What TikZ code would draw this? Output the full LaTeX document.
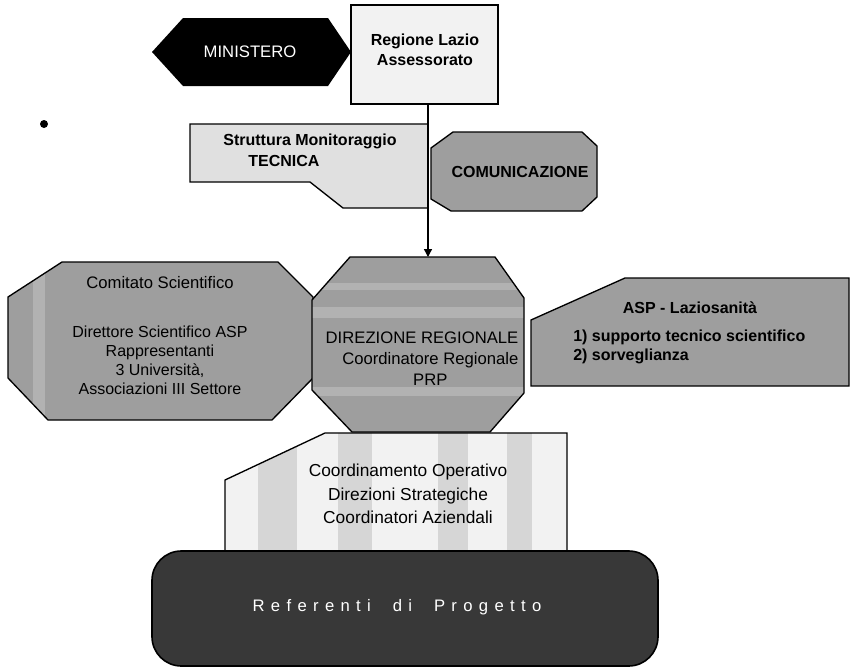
\documentclass[tikz,border=0pt]{standalone}
\usepackage{fontspec}
\setmainfont{Liberation Sans}
\newfontfamily\spacedfont[LetterSpace=38]{Liberation Sans}
\usetikzlibrary{arrows.meta}
\definecolor{boxmid}{gray}{0.62}
\definecolor{boxlight}{gray}{0.88}
\definecolor{boxpale}{gray}{0.95}
\definecolor{stripe}{gray}{0.84}
\definecolor{band}{gray}{0.70}
\definecolor{boxdark}{gray}{0.22}
\begin{document}
\begin{tikzpicture}[x=0.75pt,y=-0.75pt,
  shapeline/.style={draw=black,line width=1pt,line join=miter},
  txt/.style={font=\fontsize{12.5}{15}\selectfont,align=center,inner sep=0pt},
  btxt/.style={font=\fontsize{12}{15}\bfseries\selectfont,align=center,inner sep=0pt}]
\useasboundingbox (0,0) rectangle (851,668);

% bullet
\fill (44,124) circle[radius=4];

% MINISTERO
\fill[black] (152,52) -- (183,18) -- (328,18) -- (351,52) -- (328,86) -- (183,86) -- cycle;
\node[txt,text=white] (min) at (250,52) {MINISTERO};

% Regione Lazio
\draw[shapeline,fill=boxpale,line width=1.3pt] (351,5) rectangle (498,104);
\node[btxt] (reg) at (425,50) {Regione Lazio\\Assessorato};
\coordinate (regbot) at (428,104);

% Struttura Monitoraggio
\draw[shapeline,fill=boxlight] (190,124) -- (428,124) -- (428,208) -- (343,208) -- (310,182) -- (190,182) -- cycle;
\node[btxt] (strut1) at (310,141) {Struttura Monitoraggio};
\node[btxt] (strut2) at (284,161) {TECNICA};

% COMUNICAZIONE
\draw[shapeline,fill=boxmid] (431,148) -- (453,132) -- (582,132) -- (597,146) -- (597,197) -- (582,211) -- (451,211) -- (431,199) -- cycle;
\node[btxt] (com) at (520,172) {COMUNICAZIONE};

% Comitato Scientifico
\begin{scope}
\clip (8,297) -- (62,262) -- (278,262) -- (313,297) -- (313,378) -- (272,420) -- (48,420) -- (8,378) -- cycle;
\fill[boxmid] (0,250) rectangle (320,430);
\fill[band] (33,250) rectangle (45,430);
\end{scope}
\draw[shapeline] (8,297) -- (62,262) -- (278,262) -- (313,297) -- (313,378) -- (272,420) -- (48,420) -- (8,378) -- cycle;
\node[txt] (comtitle) at (160,283) {Comitato Scientifico};
\node[txt,font=\fontsize{12}{14.3}\selectfont] (combody) at (160,360) {Direttore Scientifico ASP\\Rappresentanti\\3 Università,\\Associazioni III Settore};

% ASP - Laziosanita
\draw[shapeline,fill=boxmid] (531,320) -- (625,278) -- (849,278) -- (849,386) -- (531,386) -- cycle;
\node[txt,font=\fontsize{12}{14.3}\bfseries\selectfont] (asptitle) at (690,308) {ASP - Laziosanità};
\node[txt,font=\fontsize{12}{14.3}\bfseries\selectfont,align=left,anchor=west] (aspbody) at (573,346.5) {1) supporto tecnico scientifico\\2) sorveglianza};

% Coordinamento Operativo
\begin{scope}
\clip (225,480) -- (325,433) -- (567,433) -- (567,556) -- (225,556) -- cycle;
\fill[boxpale] (220,425) rectangle (570,560);
\fill[stripe] (258,425) rectangle (297,560);
\fill[stripe] (338,425) rectangle (372,560);
\fill[stripe] (438,425) rectangle (468,560);
\fill[stripe] (507,425) rectangle (532,560);
\end{scope}
\draw[shapeline] (225,556) -- (225,480) -- (325,433) -- (567,433) -- (567,556);
\node[txt,font=\fontsize{13}{17.6}\selectfont] (coord) at (408,494) {Coordinamento Operativo\\Direzioni Strategiche\\Coordinatori Aziendali};

% DIREZIONE REGIONALE
\begin{scope}
\clip (312,300) -- (350,257) -- (495,257) -- (524,298) -- (524,393) -- (490,432) -- (352,432) -- (312,390) -- cycle;
\fill[boxmid] (300,250) rectangle (530,440);
\fill[band] (300,283) rectangle (530,290);
\fill[band] (300,307) rectangle (530,318);
\fill[band] (300,387) rectangle (530,396);
\end{scope}
\draw[shapeline] (312,300) -- (350,257) -- (495,257) -- (524,298) -- (524,393) -- (490,432) -- (352,432) -- (312,390) -- cycle;
\node[txt,font=\fontsize{12.5}{15.75}\selectfont] (dir) at (422,359) {DIREZIONE REGIONALE\\\quad Coordinatore Regionale\\\quad PRP};
\coordinate (dirtop) at (428,257);

% Referenti di Progetto
\draw[draw=black,line width=1.2pt,fill=boxdark,rounded corners=22] (152,551) rectangle (658,666);
\node[inner sep=0pt,text=white,font=\fontsize{12.5}{14}\spacedfont] (ref) at (397,607) {Referenti\ \ di\ \ Progetto};

% arrow
\draw[line width=1pt,-{Triangle[length=6pt,width=6pt]}] (regbot) -- (dirtop);
\end{tikzpicture}
\end{document}
